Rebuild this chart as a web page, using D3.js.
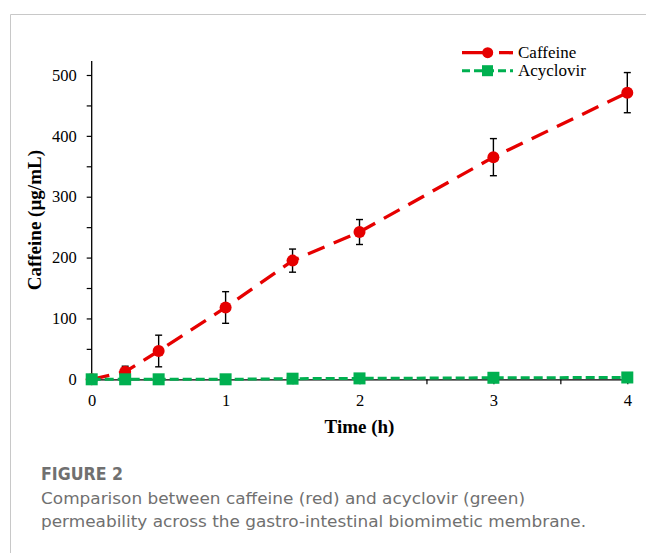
<!DOCTYPE html>
<html>
<head>
<meta charset="utf-8">
<script src="https://cdn.jsdelivr.net/npm/d3@7"></script>
<style>
  body { margin: 0; background: #fff; }
  svg { display: block; }
</style>
</head>
<body>
<svg id="chart"></svg>
<script>
// data
const times = [0, 0.25, 0.5, 1, 1.5, 2, 3, 4];
const caffeine = [0, 12.5, 46.5, 118, 195, 242, 365, 471];
const caffeineErr = [0, 9, 26, 26, 19, 20.5, 30.5, 33];
const acyclovir = [0, 0, 0, 0, 1, 1.5, 2.5, 3];
const xTicks = [0, 0.5, 1, 1.5, 2, 2.5, 3, 3.5, 4];
const yTicks = [0, 50, 100, 150, 200, 250, 300, 350, 400, 450, 500];
const seriesNames = ["Caffeine", "Acyclovir"];

const width = 646, height = 553;
const red = "#e60000", green = "#00b050";

const svg = d3.select("#chart").attr("width", width).attr("height", height);
svg.append("rect").attr("width", width).attr("height", height).attr("fill", "#fff");

// panel border (top + left)
svg.append("path")
  .attr("d", `M10.5,${height}V14.5H${width}`)
  .attr("fill", "none").attr("stroke", "#c8c8c8").attr("stroke-width", 1);

const x = d3.scaleLinear().domain([0, 4]).range([91.7, 627.3]);
const y = d3.scaleLinear().domain([0, 523]).range([379.3, 61]);

// axes
const gx = svg.append("g").attr("transform", `translate(0,${y(0)})`)
  .call(d3.axisBottom(x).tickValues(xTicks)
    .tickFormat(d => Number.isInteger(d) ? d : "")
    .tickSizeInner(5).tickSizeOuter(0).tickPadding(10));
const gy = svg.append("g").attr("transform", `translate(${x(0)},0)`)
  .call(d3.axisLeft(y).tickValues(yTicks)
    .tickFormat(d => d % 100 === 0 ? d : "")
    .tickSizeInner(5).tickSizeOuter(0).tickPadding(10));
[gx, gy].forEach(g => {
  g.selectAll("path.domain").attr("stroke", "#000").attr("stroke-width", 1.3);
  g.selectAll(".tick line").attr("stroke", "#000").attr("stroke-width", 1.2);
  g.selectAll("text").attr("font-family", "'Liberation Serif', serif")
    .attr("font-size", 16.5).attr("fill", "#000");
});
// extend y axis line to the top
gy.select("path.domain").attr("d", `M0,${y(0)}V${y.range()[1]}`);

// axis titles
svg.append("text")
  .attr("x", (x.range()[0] + x.range()[1]) / 2).attr("y", 433)
  .attr("text-anchor", "middle")
  .attr("font-family", "'Liberation Serif', serif").attr("font-weight", "bold")
  .attr("font-size", 19).text("Time (h)");
svg.append("text")
  .attr("transform", `translate(41,${(y.range()[0] + y.range()[1]) / 2}) rotate(-90)`)
  .attr("text-anchor", "middle")
  .attr("font-family", "'Liberation Serif', serif").attr("font-weight", "bold")
  .attr("font-size", 19).text("Caffeine (µg/mL)");

const cData = times.map((t, i) => ({ t, v: caffeine[i], e: caffeineErr[i] }));
const aData = times.map((t, i) => ({ t, v: acyclovir[i] }));
const line = d3.line().x(d => x(d.t)).y(d => y(d.v));

// caffeine line
svg.append("path").datum(cData).attr("d", line)
  .attr("fill", "none").attr("stroke", red).attr("stroke-width", 3.3)
  .attr("stroke-dasharray", "18,10");

// error bars
const eb = svg.append("g").attr("stroke", "#000").attr("stroke-width", 1.4)
  .selectAll("g").data(cData.filter(d => d.e > 0)).join("g");
eb.append("line").attr("x1", d => x(d.t)).attr("x2", d => x(d.t))
  .attr("y1", d => y(d.v - d.e)).attr("y2", d => y(d.v + d.e));
eb.append("line").attr("x1", d => x(d.t) - 3.5).attr("x2", d => x(d.t) + 3.5)
  .attr("y1", d => y(d.v + d.e)).attr("y2", d => y(d.v + d.e));
eb.append("line").attr("x1", d => x(d.t) - 3.5).attr("x2", d => x(d.t) + 3.5)
  .attr("y1", d => y(d.v - d.e)).attr("y2", d => y(d.v - d.e));

// caffeine markers
svg.append("g").selectAll("circle").data(cData).join("circle")
  .attr("cx", d => x(d.t)).attr("cy", d => y(d.v)).attr("r", 6).attr("fill", red);

// acyclovir line + markers
svg.append("path").datum(aData).attr("d", line)
  .attr("fill", "none").attr("stroke", green).attr("stroke-width", 3)
  .attr("stroke-dasharray", "9,4");
svg.append("g").selectAll("rect").data(aData).join("rect")
  .attr("x", d => x(d.t) - 6).attr("y", d => y(d.v) - 6)
  .attr("width", 12).attr("height", 12).attr("fill", green);

// legend
const legend = svg.append("g").attr("font-family", "'Liberation Serif', serif").attr("font-size", 17);
const lg = legend.selectAll("g").data(seriesNames).join("g")
  .attr("transform", (d, i) => `translate(0,${52.7 + i * 18})`);
lg.append("line").attr("x1", 462).attr("x2", 513).attr("y1", 0).attr("y2", 0)
  .attr("stroke", (d, i) => i === 0 ? red : green)
  .attr("stroke-width", (d, i) => i === 0 ? 3.3 : 3)
  .attr("stroke-dasharray", (d, i) => i === 0 ? "31,6" : "8,4");
lg.filter((d, i) => i === 0).append("circle").attr("cx", 487.7).attr("cy", 0).attr("r", 5.5).attr("fill", red);
lg.filter((d, i) => i === 1).append("rect").attr("x", 482).attr("y", -5.5)
  .attr("width", 11).attr("height", 11).attr("fill", green);
lg.append("text").attr("x", 518).attr("y", 0).attr("dy", "0.33em").text(d => d);

// caption
const cap = svg.append("g").attr("font-family", "'DejaVu Sans', sans-serif").attr("fill", "#707070");
cap.append("text").attr("x", 41).attr("y", 479.5).attr("font-size", 17.5)
  .attr("font-weight", 600).attr("textLength", 82).attr("lengthAdjust", "spacingAndGlyphs")
  .text("FIGURE 2");
cap.append("text").attr("x", 41).attr("y", 503.5).attr("font-size", 16)
  .attr("textLength", 484).attr("lengthAdjust", "spacingAndGlyphs")
  .text("Comparison between caffeine (red) and acyclovir (green)");
cap.append("text").attr("x", 41).attr("y", 526.5).attr("font-size", 16)
  .attr("textLength", 545).attr("lengthAdjust", "spacingAndGlyphs")
  .text("permeability across the gastro-intestinal biomimetic membrane.");
</script>
</body>
</html>
